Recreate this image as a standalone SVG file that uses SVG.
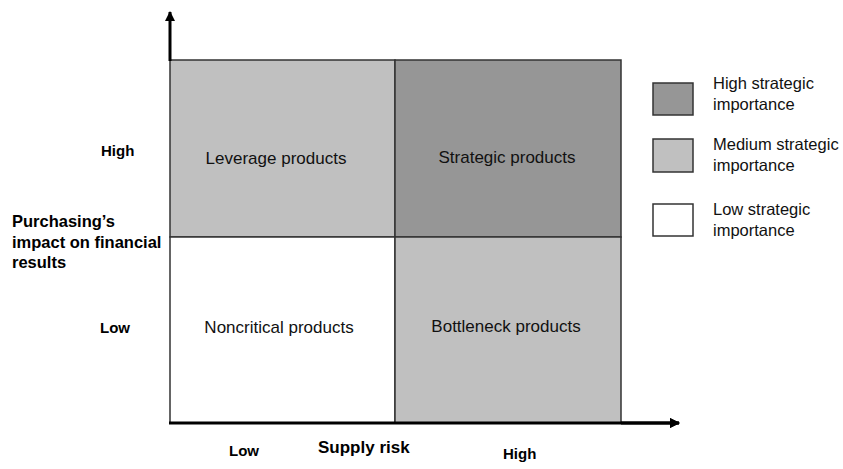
<svg xmlns="http://www.w3.org/2000/svg" width="843" height="469" viewBox="0 0 843 469">
<defs>
<style>
.cell{stroke:#333;stroke-width:1.5}
.hi{fill:#969696}
.med{fill:#c0c0c0}
.lo{fill:#ffffff}
.lbl{font-family:"Liberation Sans",Arial,sans-serif;font-size:17px;fill:#111;text-anchor:middle}
.leg{font-family:"Liberation Sans",Arial,sans-serif;font-size:16.5px;fill:#111}
.b{font-family:"Liberation Sans",Arial,sans-serif;font-weight:bold;fill:#000}
.axis{stroke:#000;stroke-width:3;fill:none}
</style>
<marker id="ah" viewBox="0 0 10 10" refX="9" refY="5" markerWidth="3.4" markerHeight="3.4" orient="auto" markerUnits="strokeWidth">
<path d="M0,0 L10,5 L0,10 Z" fill="#000"/>
</marker>
</defs>
<rect width="843" height="469" fill="#fff"/>
<g id="leverage"><rect class="cell med" x="170" y="60" width="225" height="177"/><text class="lbl" x="276" y="164">Leverage products</text></g>
<g id="strategic"><rect class="cell hi" x="395" y="60" width="226" height="177"/><text class="lbl" x="507" y="163">Strategic products</text></g>
<g id="noncritical"><rect class="cell lo" x="170" y="237" width="225" height="186"/><text class="lbl" x="279" y="333">Noncritical products</text></g>
<g id="bottleneck"><rect class="cell med" x="395" y="237" width="226" height="186"/><text class="lbl" x="506" y="332">Bottleneck products</text></g>
<g id="axes">
<line class="axis" x1="170" y1="61" x2="170" y2="12" marker-end="url(#ah)"/>
<line class="axis" x1="169" y1="423" x2="679" y2="423" marker-end="url(#ah)" stroke-width="2"/>
<line class="axis" x1="621" y1="423" x2="679" y2="423" marker-end="url(#ah)"/>
</g>
<g id="axis-labels">
<text class="b" x="101" y="156" font-size="15">High</text>
<text class="b" x="100" y="333" font-size="15">Low</text>
<text class="b" x="12" y="227" font-size="16.5">Purchasing’s</text>
<text class="b" x="12" y="248" font-size="16.5">impact on financial</text>
<text class="b" x="12" y="268" font-size="16.5">results</text>
<text class="b" x="318" y="453" font-size="17">Supply risk</text>
<text class="b" x="229" y="456" font-size="15">Low</text>
<text class="b" x="503" y="459" font-size="15">High</text>
</g>
<g id="legend-high"><rect class="cell hi" x="653" y="83" width="40" height="32"/><text class="leg" x="713" y="89">High strategic</text><text class="leg" x="713" y="110">importance</text></g>
<g id="legend-medium"><rect class="cell med" x="653" y="139" width="40" height="33"/><text class="leg" x="713" y="150">Medium strategic</text><text class="leg" x="713" y="171">importance</text></g>
<g id="legend-low"><rect class="cell lo" x="653" y="204" width="40" height="32"/><text class="leg" x="713" y="215">Low strategic</text><text class="leg" x="713" y="236">importance</text></g>
</svg>
